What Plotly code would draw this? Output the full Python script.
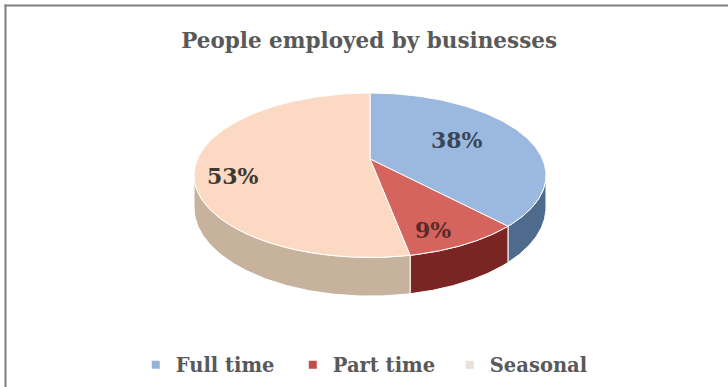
import numpy as np
import plotly.graph_objects as go

# ---- data ----
categories = ["Full time", "Part time", "Seasonal"]
shares = [38, 9, 53]

# ---- styling ----
top_colors = ["#9BB9E0", "#D4645D", "#FCD9C2"]
side_colors = ["#4E6A8C", "#7A2424", "#C7B29E"]
legend_colors = ["#95B3D7", "#C0504D", "#E9E1DA"]
label_colors = ["#3A4656", "#5A2A28", "#3D3833"]
label_pos = [(457, 140), (433, 230), (233, 176)]

W, H = 728, 387
FONT = "DejaVu Serif"
TEXT_GREY = "#595959"

# perspective view of a tilted disc: centre, half-axes, camera distance, thickness
CX, CY, RX, RY, K, DEPTH = 370, 159, 172.5, 79, 5.06, 31


def project(theta_deg, drop=0.0):
    """Point on the disc rim at angle theta (clockwise from 12 o'clock)."""
    t = np.radians(theta_deg)
    s = K / (K + np.cos(t))
    x = CX + RX * s * np.sin(t)
    y = CY - RY * s * np.cos(t) + DEPTH * s * drop
    return x, y


total = float(sum(shares))
bounds = np.concatenate([[0.0], np.cumsum(shares) / total * 360.0])

# visible part of the rim lies between the two silhouette angles
sil = np.degrees(np.arccos(-1.0 / K))
vis_lo, vis_hi = sil, 360.0 - sil

fig = go.Figure()

# side walls
for i, cat in enumerate(categories):
    a, b = bounds[i], bounds[i + 1]
    lo, hi = max(a, vis_lo), min(b, vis_hi)
    if hi <= lo:
        continue
    th = np.linspace(lo, hi, 120)
    xt, yt = project(th, 0.0)
    xb, yb = project(th[::-1], 1.0)
    fig.add_trace(go.Scatter(
        x=np.concatenate([xt, xb, xt[:1]]),
        y=np.concatenate([yt, yb, yt[:1]]),
        mode="lines", fill="toself", fillcolor=side_colors[i],
        line=dict(color="white", width=1), hoverinfo="skip", showlegend=False,
    ))

# top faces
for i, cat in enumerate(categories):
    a, b = bounds[i], bounds[i + 1]
    th = np.linspace(a, b, 200)
    xa, ya = project(th, 0.0)
    fig.add_trace(go.Scatter(
        x=np.concatenate([[CX], xa, [CX]]),
        y=np.concatenate([[CY], ya, [CY]]),
        mode="lines", fill="toself", fillcolor=top_colors[i],
        line=dict(color="white", width=1), name=cat,
        hoverinfo="name", showlegend=False,
    ))

# legend entries
for i, cat in enumerate(categories):
    fig.add_trace(go.Scatter(
        x=[None], y=[None], mode="markers", name=cat,
        marker=dict(symbol="square", size=8, color=legend_colors[i]),
    ))

# value labels
for i, v in enumerate(shares):
    fig.add_annotation(
        x=label_pos[i][0], y=label_pos[i][1], xref="x", yref="y",
        text=f"{v}%", showarrow=False,
        font=dict(family=FONT, size=22, color=label_colors[i], weight="bold"),
    )

# frame lines along top and left edges
fig.add_shape(type="line", xref="paper", yref="paper",
              x0=4.5 / W, x1=1, y0=1 - 5.5 / H, y1=1 - 5.5 / H,
              line=dict(color="#7F7F7F", width=2))
fig.add_shape(type="line", xref="paper", yref="paper",
              x0=5.5 / W, x1=5.5 / W, y0=0, y1=1 - 4.5 / H,
              line=dict(color="#7F7F7F", width=2))

fig.update_layout(
    width=W, height=H,
    margin=dict(l=0, r=0, t=0, b=0),
    paper_bgcolor="white", plot_bgcolor="white",
    title=dict(text="People employed by businesses", x=0.507, xanchor="center",
               y=1 - 40 / H, yanchor="middle",
               font=dict(family=FONT, size=21.5, color=TEXT_GREY, weight="bold")),
    xaxis=dict(range=[0, W], visible=False, fixedrange=True),
    yaxis=dict(range=[H, 0], visible=False, fixedrange=True),
    legend=dict(orientation="h", x=0.51, xanchor="center",
                y=1 - 365 / H, yanchor="middle",
                entrywidth=112, entrywidthmode="pixels",
                font=dict(family=FONT, size=19.5, color=TEXT_GREY, weight="bold"),
                bgcolor="rgba(0,0,0,0)"),
    showlegend=True,
)

fig.write_html("out.html")
